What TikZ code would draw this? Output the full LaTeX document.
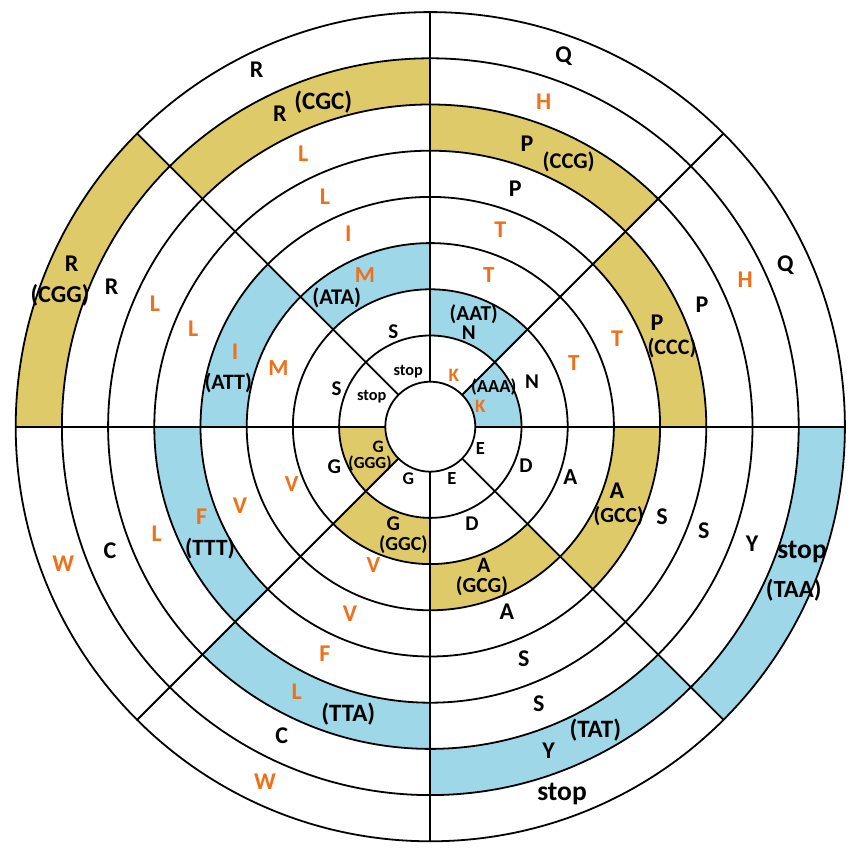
\documentclass[tikz,border=0pt]{standalone}
\usepackage{fontspec}
\setmainfont{Carlito}
\definecolor{ylw}{RGB}{223,202,106}
\definecolor{blu}{RGB}{158,216,232}
\definecolor{org}{RGB}{240,112,24}
\begin{document}
\begin{tikzpicture}[x=1pt,y=1pt,
  ln/.style={line width=1.8pt,black},
  lbl/.style={inner sep=0pt,anchor=center}]
\useasboundingbox[fill=white] (0,0) rectangle (857,855);
\coordinate (C) at (430.3,428.3);
\begin{scope}[shift={(C)}]
\foreach \k in {1,...,8} {
  \pgfmathsetmacro\ri{45+46.2*(\k-1)}
  \pgfmathsetmacro\ro{45+46.2*\k}
  \pgfmathsetmacro\a{45*(\k-1)}
  \pgfmathsetmacro\b{45*\k}
  \pgfmathsetmacro\c{\a+180}
  \pgfmathsetmacro\d{\b+180}
  \fill[blu] (\a:\ri) arc[start angle=\a,end angle=\b,radius=\ri] -- (\b:\ro) arc[start angle=\b,end angle=\a,radius=\ro] -- cycle;
  \fill[ylw] (\c:\ri) arc[start angle=\c,end angle=\d,radius=\ri] -- (\d:\ro) arc[start angle=\d,end angle=\c,radius=\ro] -- cycle;
}
\foreach \k in {0,...,8} \draw[ln] (0,0) circle[radius={45+46.2*\k}];
\foreach \a in {0,45,...,315} \draw[ln] (\a:45) -- (\a:414.6);
\end{scope}
\foreach \x/\y/\t/\c/\s [count=\n] in {
408.3/371.7/stop/black/16.3,
371.7/396.7/stop/black/16.3,
453.7/375/K/org/19,
493.7/387.5/(AAA)/black/18.5,
480.3/406/K/org/19,
480.3/448.7/E/black/18.5,
452/478.7/E/black/18.5,
408.3/478.7/G/black/18,
378.3/447.3/G/black/17.5,
370/463.5/(GGG)/black/17,
393.3/331.7/S/black/21,
336.7/388.3/S/black/21,
473.7/313.8/(AAT)/black/21.3,
468.7/332.8/N/black/21,
532/381.7/N/black/21,
526/465.3/D/black/21,
472/523.7/D/black/21,
393.3/524/G/black/21,
403.3/545/(GGC)/black/20,
334.3/467/G/black/21,
365/275/M/org/23,
336.7/298.3/(ATA)/black/22.4,
278.3/368.3/M/org/23,
488.7/275/T/org/23,
573.7/363.3/T/org/23,
570.3/477/A/black/23,
483.7/565.8/A/black/22,
482/586.5/(GCG)/black/21.5,
373.3/565.3/V/org/23,
291.7/483.7/V/org/23,
348.3/233.3/I/org/24,
235/351.7/I/org/24,
228.3/383.3/(ATT)/black/22,
500.3/230/T/org/24,
617/338.3/T/org/24,
617/491/A/black/24,
618.7/516.3/(GCC)/black/21.6,
507/612/A/black/24,
350/613.7/V/org/24,
240/505.3/V/org/24,
325/196.7/L/org/24,
193.3/328.3/L/org/24,
515.3/188.3/P/black/24,
657/322.3/P/black/24,
672/347.7/(CCC)/black/22.1,
662/517/S/black/24,
523.7/658.7/S/black/24,
325/653.7/F/org/24,
201.7/517/F/org/24,
210/548.7/(TTT)/black/23.3,
303.3/153.3/L/org/24,
155/303.3/L/org/24,
527/143.3/P/black/24,
568.7/161.7/(CCG)/black/22.5,
702/305/P/black/24,
703.7/530.3/S/black/24,
538.7/703.7/S/black/24,
296.7/692/L/org/24,
348.3/713.7/(TTA)/black/25,
156.7/533.7/L/org/24,
280/113.3/R/black/24,
323.3/101.7/(CGC)/black/25,
111.7/286.7/R/black/24,
543.7/101.7/H/org/24,
745.3/280/H/org/24,
752/543.7/Y/black/24,
548.7/750.3/Y/black/24,
595.3/730.3/(TAT)/black/25,
281.7/735.3/C/black/24,
110/550.3/C/black/24,
256.7/70/R/black/24,
71.7/263.3/R/black/24,
60/295/(CGG)/black/24.3,
563.7/56/Q/black/24,
785.3/265/Q/black/24,
802/552/stop/black/27.5,
793.7/590.3/(TAA)/black/24.7,
562/793.7/stop/black/27.5,
265/782/W/org/24,
63.3/563.7/W/org/24}
  \node[lbl,text=\c,font=\bfseries\fontsize{\s}{\s}\selectfont] (lab\n) at (\x,{855-\y}) {\t};
\end{tikzpicture}
\end{document}
